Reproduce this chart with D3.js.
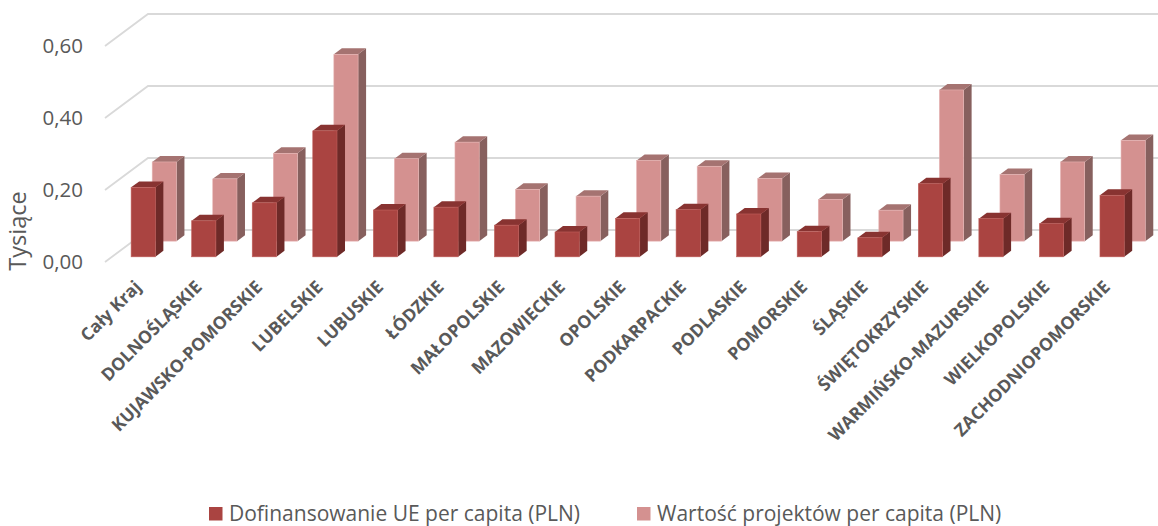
<!DOCTYPE html>
<html>
<head>
<meta charset="utf-8">
<script src="https://cdn.jsdelivr.net/npm/d3@7"></script>
<style>
body { margin: 0; background: #fff; }
text { font-family: "Open Sans", sans-serif; fill: #595959; }
</style>
</head>
<body>
<svg width="1158" height="526"></svg>
<script>
// values in thousands of PLN (axis "Tysiące")
var categories = ["Cały Kraj", "DOLNOŚLĄSKIE", "KUJAWSKO-POMORSKIE", "LUBELSKIE", "LUBUSKIE",
    "ŁÓDZKIE", "MAŁOPOLSKIE", "MAZOWIECKIE", "OPOLSKIE", "PODKARPACKIE", "PODLASKIE",
    "POMORSKIE", "ŚLĄSKIE", "ŚWIĘTOKRZYSKIE", "WARMIŃSKO-MAZURSKIE", "WIELKOPOLSKIE",
    "ZACHODNIOPOMORSKIE"];
var dofinansowanie = [0.193, 0.10, 0.15, 0.35, 0.13, 0.138, 0.088, 0.069, 0.107, 0.131, 0.119,
    0.07, 0.053, 0.203, 0.106, 0.092, 0.171];
var wartosc = [0.22, 0.173, 0.244, 0.519, 0.229, 0.275, 0.144, 0.125, 0.224, 0.208, 0.174,
    0.116, 0.086, 0.42, 0.185, 0.22, 0.28];
var seriesNames = ["Dofinansowanie UE per capita (PLN)", "Wartość projektów per capita (PLN)"];
var yTicks = [0, 0.2, 0.4, 0.6];

var svg = d3.select("svg");

// oblique 3d: floor front edge at y=262, depth vector goes up-right
var floorY = 262, wallX = 105, depthX = 43, depthY = -32;

var x = d3.scaleBand().domain(categories).range([106, 1135.4]).paddingInner(0.6).paddingOuter(0.3);
var z = d3.scaleBand().domain(seriesNames).range([0, 1]).paddingInner(0.62).paddingOuter(0.33);
var y = d3.scaleLinear().domain([0, 0.6]).range([0, 216]);

function proj(px, v, dz) {
    return [px + dz * depthX, floorY + dz * depthY - y(v)];
}

var fmt = function (d) { return d3.format(".2f")(d).replace(".", ","); };

// gridlines: diagonal on the left wall, then flat along the back wall
svg.append("g").selectAll("path")
    .data(yTicks)
    .enter().append("path")
    .attr("fill", "none")
    .attr("stroke", "#d9d9d9")
    .attr("stroke-width", 1.8)
    .attr("d", function (t) {
        var a = proj(wallX, t, 0), b = proj(wallX, t, 1);
        return d3.line()([a, b, [1158, b[1]]]);
    });

svg.append("g").selectAll("text")
    .data(yTicks)
    .enter().append("text")
    .attr("x", 83)
    .attr("y", function (t) { return proj(wallX, t, 0)[1]; })
    .attr("dy", "0.35em")
    .attr("text-anchor", "end")
    .style("font-size", "20.5px")
    .text(fmt);

svg.append("text")
    .attr("transform", "translate(26,231) rotate(-90)")
    .attr("text-anchor", "middle")
    .style("font-size", "23.5px")
    .text("Tysiące");

var styles = [
    { front: "#aa4441", side: "#6e2a28", top: "#883331", edge: "#c0605c" },
    { front: "#d49190", side: "#87605e", top: "#a57371", edge: "#e6b4b3" }
];

function drawSeries(name, vals, st) {
    var g = svg.append("g");
    var z0 = z(name), dz = z.bandwidth(), w = x.bandwidth();
    var bars = g.selectAll("g")
        .data(categories.map(function (c, i) { return { cat: c, v: vals[i] }; }))
        .enter().append("g");

    bars.append("path")
        .attr("fill", st.side)
        .attr("d", function (d) {
            var x1 = x(d.cat) + w;
            return d3.line()([proj(x1, 0, z0), proj(x1, d.v, z0), proj(x1, d.v, z0 + dz), proj(x1, 0, z0 + dz)]) + "Z";
        });
    bars.append("path")
        .attr("fill", st.top)
        .attr("d", function (d) {
            var x0 = x(d.cat);
            return d3.line()([proj(x0, d.v, z0), proj(x0 + w, d.v, z0), proj(x0 + w, d.v, z0 + dz), proj(x0, d.v, z0 + dz)]) + "Z";
        });
    bars.append("rect")
        .attr("fill", st.front)
        .attr("stroke", st.edge)
        .attr("stroke-width", 0.6)
        .attr("x", function (d) { return proj(x(d.cat), d.v, z0)[0]; })
        .attr("y", function (d) { return proj(x(d.cat), d.v, z0)[1]; })
        .attr("width", w)
        .attr("height", function (d) { return y(d.v); });
}

// back row first
drawSeries(seriesNames[1], wartosc, styles[1]);
drawSeries(seriesNames[0], dofinansowanie, styles[0]);

svg.append("g").selectAll("text")
    .data(categories)
    .enter().append("text")
    .attr("transform", function (d) {
        return "translate(" + (x(d) + x.bandwidth() / 2 + 6) + ",288) rotate(-45)";
    })
    .attr("text-anchor", "end")
    .style("font-size", "17.5px")
    .style("font-weight", "bold")
    .text(function (d) { return d; });

// legend
var legX = [209, 637];
var legend = svg.append("g").selectAll("g")
    .data(seriesNames)
    .enter().append("g")
    .attr("transform", function (d, i) { return "translate(" + legX[i] + ",0)"; });
legend.append("rect")
    .attr("y", 507)
    .attr("width", 13.5)
    .attr("height", 13.5)
    .attr("fill", function (d, i) { return styles[i].front; });
legend.append("text")
    .attr("x", 20)
    .attr("y", 521)
    .style("font-size", "21px")
    .text(function (d) { return d; });
</script>
</body>
</html>
